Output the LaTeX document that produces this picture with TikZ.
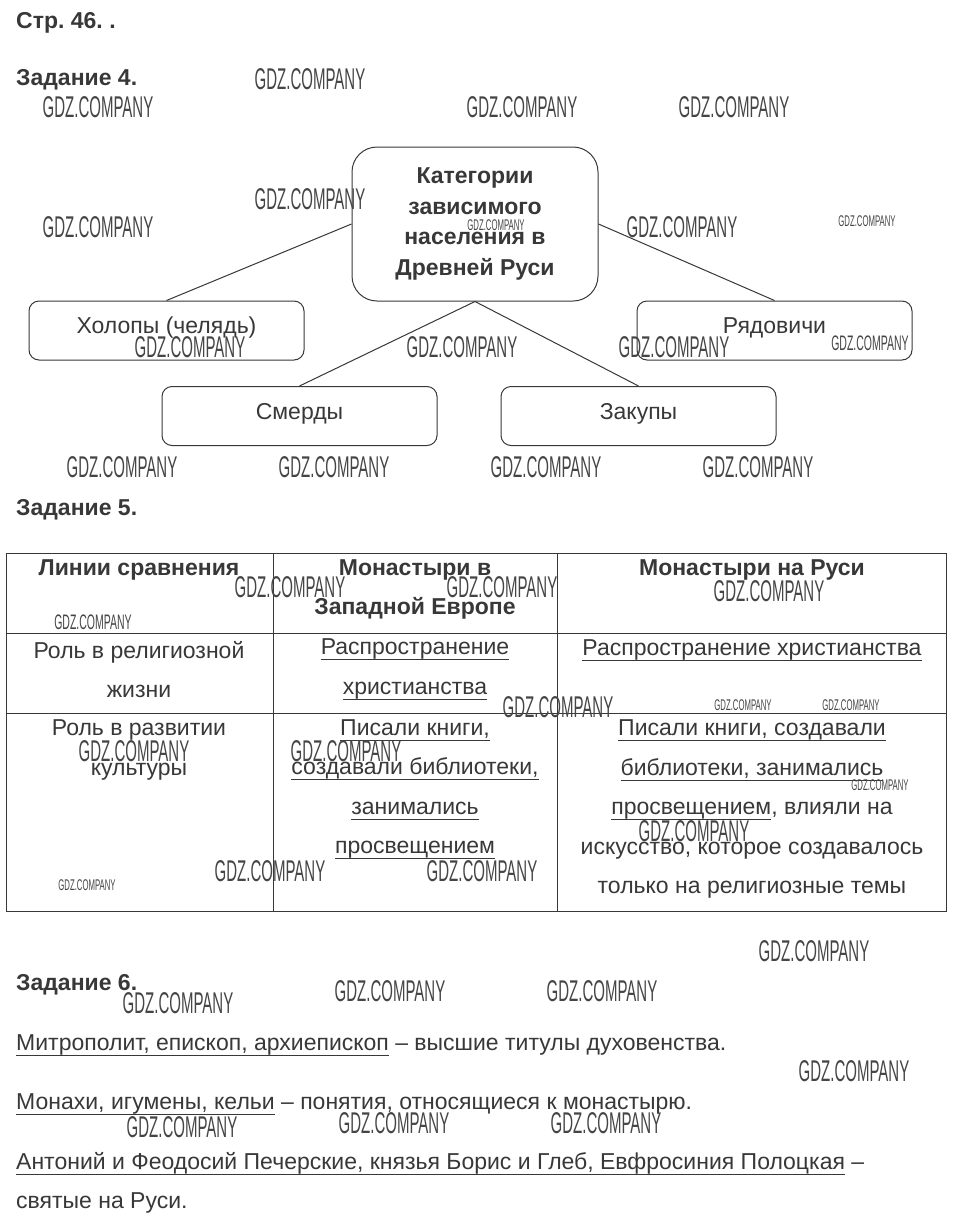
\documentclass[tikz,border=0pt]{standalone}
\usepackage{fontspec}
\setmainfont{Liberation Sans}
\newfontfamily\wmfont[FakeStretch=0.5]{Liberation Sans}
\usepackage{tikz}
\usetikzlibrary{positioning}

\definecolor{ink}{HTML}{383838}
\definecolor{wmink}{HTML}{454545}

\newsavebox\undlbox
\newcommand{\undl}[1]{\sbox\undlbox{#1}%
    \rlap{\vrule height -4.6pt depth 5.6pt width \wd\undlbox}\usebox\undlbox}

\frenchspacing

\begin{document}
\begin{tikzpicture}[
    x=1pt, y=-1pt,
    title/.style={anchor=base west, inner sep=0, text=ink,
                  font=\fontsize{23}{27}\selectfont\bfseries},
    para/.style={anchor=base west, inner sep=0, text=ink,
                 font=\fontsize{23}{27}\selectfont},
    rootbox/.style={draw=ink, line width=1pt, rounded corners=25pt,
                    minimum width=246pt, minimum height=154pt, align=center,
                    text=ink, font=\fontsize{23}{30.5}\selectfont\bfseries},
    catbox/.style={draw=ink, line width=1pt, rounded corners=10pt,
                   minimum width=275pt, minimum height=59pt, text=ink,
                   text height=16pt, text depth=10pt,
                   font=\fontsize{23}{27}\selectfont},
    cell/.style={align=center, inner sep=0, text=ink,
                 font=\fontsize{23}{39.5}\selectfont},
    headcell/.style={cell, font=\fontsize{23}{39.5}\selectfont\bfseries},
    link/.style={draw=ink, line width=1pt},
    wm/.style={inner sep=0, text=wmink, font=\wmfont\fontsize{30}{30}\selectfont},
    wmmid/.style={wm, font=\wmfont\fontsize{21}{21}\selectfont},
    wmsmall/.style={wm, font=\wmfont\fontsize{15.5}{16}\selectfont}
]
    \useasboundingbox[fill=white] (0,0) rectangle (957,1221);

    % headings
    \node[title] (page) at (16,28) {Стр. 46. .};
    \node[title] (task4) at (16,85) {Задание 4.};
    \node[title] (task5) at (16,515) {Задание 5.};
    \node[title] (task6) at (16,990) {Задание 6.};

    % task 4: scheme
    \node[rootbox] (cat) at (475,224)
        {Категории\\зависимого\\населения в\\Древней Руси};
    \node[catbox] (holopy) at (166.5,330.5) {Холопы (челядь)};
    \node[catbox] (ryad) at (774.5,330.5) {Рядовичи};
    \node[catbox] (smerdy) at (299.5,416) {Смерды};
    \node[catbox] (zakupy) at (638.5,416) {Закупы};

    \draw[link] (cat.west) -- (holopy.north);
    \draw[link] (cat.east) -- (ryad.north);
    \draw[link] (cat.south) -- (smerdy.north);
    \draw[link] (cat.south) -- (zakupy.north);

    % task 5: table
    \draw[link] (6,553) rectangle (946,911);
    \draw[link] (6,633) -- (946,633);
    \draw[link] (6,713) -- (946,713);
    \draw[link] (273,553) -- (273,911);
    \draw[link] (557,553) -- (557,911);

    \node[headcell] (h1) at (139,570) {Линии сравнения};
    \node[headcell] (h2) at (415,589.5) {Монастыри в\\Западной Европе};
    \node[headcell] (h3) at (752,570) {Монастыри на Руси};

    \node[cell] (r1c1) at (139,669.5) {Роль в религиозной\\жизни};
    \node[cell] (r1c2) at (415,669.5)
        {\undl{Распространение}\\\undl{христианства}};
    \node[cell] (r1c3) at (752,650) {\undl{Распространение христианства}};

    \node[cell] (r2c1) at (139,750) {Роль в развитии\\культуры};
    \node[cell] (r2c2) at (415,789.5)
        {\undl{Писали книги,}\\\undl{создавали библиотеки,}\\
         \undl{занимались}\\\undl{просвещением}};
    \node[cell] (r2c3) at (752,809)
        {\undl{Писали книги, создавали}\\\undl{библиотеки, занимались}\\
         \undl{просвещением}, влияли на\\искусство, которое создавалось\\
         только на религиозные темы};

    % task 6
    \node[para] (t6a) at (16,1050)
        {\undl{Митрополит, епископ, архиепископ} – высшие титулы духовенства.};
    \node[para] (t6b) at (16,1109)
        {\undl{Монахи, игумены, кельи} – понятия, относящиеся к монастырю.};
    \node[para] (t6c) at (16,1169)
        {\undl{Антоний и Феодосий Печерские, князья Борис и Глеб, Евфросиния Полоцкая} –};
    \node[para] (t6d) at (16,1208) {святые на Руси.};

    % watermarks
    \foreach \x/\y [count=\i] in {310/79, 98/107, 522/107, 734/107, 310/199,
        98/227, 682/227, 190/347, 462/347, 674/347, 122/467, 334/467,
        546/467, 758/467, 290/587, 502/587, 769/591, 558/707, 134/751,
        346/751, 694/831, 270/871, 482/871, 814/951, 178/1003, 390/991,
        602/991, 854/1071, 182/1127, 394/1123, 606/1123}
        \node[wm] (wm\i) at (\x,\y) {GDZ.COMPANY};
    \foreach \x/\y [count=\i] in {870/343, 93/622}
        \node[wmmid] (wmm\i) at (\x,\y) {GDZ.COMPANY};
    \foreach \x/\y [count=\i] in {867/221, 496/225, 743/705, 851/705,
        880/785, 87/885}
        \node[wmsmall] (wms\i) at (\x,\y) {GDZ.COMPANY};
\end{tikzpicture}
\end{document}
